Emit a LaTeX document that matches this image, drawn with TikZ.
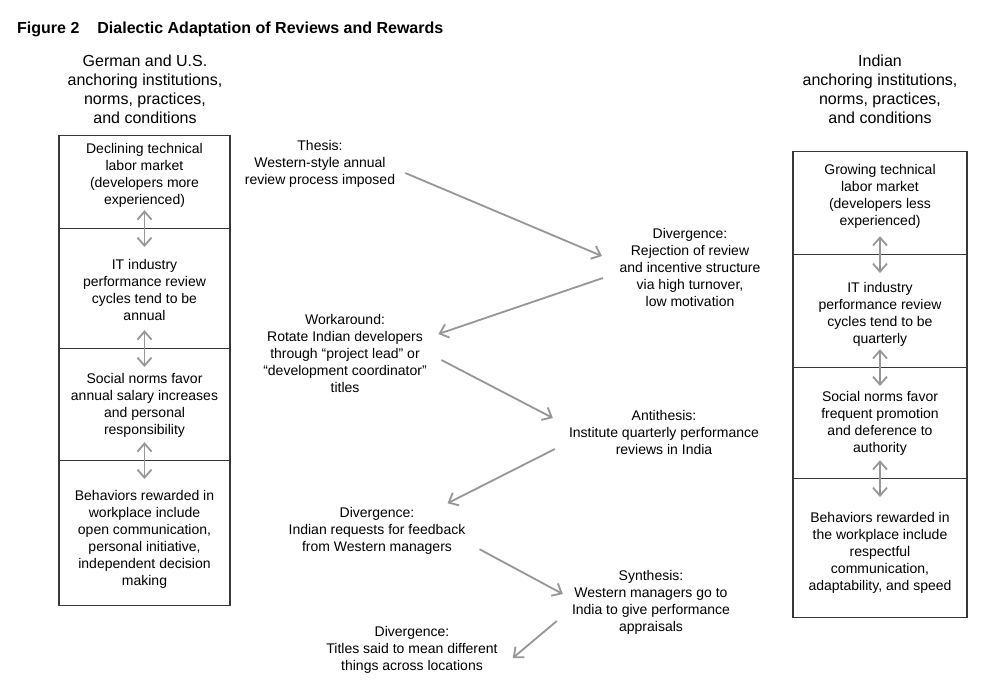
\documentclass[tikz,border=0pt]{standalone}
\usepackage{fontspec}
\setmainfont{Liberation Sans}
\usetikzlibrary{arrows.meta}
\definecolor{arrowgray}{RGB}{150,150,150}
\definecolor{boxline}{RGB}{55,55,55}

\begin{document}
\begin{tikzpicture}[x=1pt, y=-1pt,
	box/.style={draw=boxline, line width=1.2pt, anchor=north, inner sep=0pt},
	txt/.style={align=center, inner sep=0pt, yshift=-2pt, font=\fontsize{14}{17}\selectfont},
	head/.style={align=center, inner sep=0pt, font=\fontsize{16}{19}\selectfont},
	dbl/.style={draw=arrowgray, line width=1.8pt,
		{Straight Barb[length=8pt,width=14pt]}-{Straight Barb[length=8pt,width=14pt]}},
	flow/.style={draw=arrowgray, line width=1.8pt, -{Straight Barb[length=8pt,width=14pt]}}]
	\useasboundingbox (0,0) rectangle (999,681);
	% Title
	\node[anchor=base west, inner sep=0pt, font=\fontsize{16}{19}\selectfont\bfseries] (title) at (17,33)
		{Figure 2\hspace{18pt}Dialectic Adaptation of Reviews and Rewards};
	% Headers of the two columns
	\node[head] (ghead) at (145,89.5) {German and U.S.\\anchoring institutions,\\norms, practices,\\and conditions};
	\node[head] (ihead) at (880,89) {Indian\\anchoring institutions,\\norms, practices,\\and conditions};
	% First we draw the stacked boxes
	\foreach \pos/\w/\h/\name in {{(144.5,135)/171/93/g1}, {(144.5,228)/171/120/g2},
	                              {(144.5,348)/171/112/g3}, {(144.5,460)/171/145/g4},
	                              {(880,151)/174/103/i1}, {(880,254)/174/113/i2},
	                              {(880,367)/174/111/i3}, {(880,478)/174/139/i4}}
		\node[box, minimum width=\w pt, minimum height=\h pt] (\name) at \pos {};
	% Texts in the boxes
	\node[txt] (g1t) at (144.5,173) {Declining technical\\labor market\\(developers more\\experienced)};
	\node[txt] (g2t) at (144.5,288) {IT industry\\performance review\\cycles tend to be\\annual};
	\node[txt] (g3t) at (144.5,403.5) {Social norms favor\\annual salary increases\\and personal\\responsibility};
	\node[txt] (g4t) at (144.5,537.5) {Behaviors rewarded in\\workplace include\\open communication,\\personal initiative,\\independent decision\\making};
	\node[txt] (i1t) at (880,194) {Growing technical\\labor market\\(developers less\\experienced)};
	\node[txt] (i2t) at (880,312) {IT industry\\performance review\\cycles tend to be\\quarterly};
	\node[txt] (i3t) at (880,421.5) {Social norms favor\\frequent promotion\\and deference to\\authority};
	\node[txt] (i4t) at (880,551) {Behaviors rewarded in\\the workplace include\\respectful\\communication,\\adaptability, and speed};
	% Then the arrows between the boxes
	\foreach \source/\dest in {g1/g2, g2/g3, g3/g4, i1/i2, i2/i3, i3/i4}
		\draw[dbl] ([yshift=19pt]\source.south) -- ([yshift=-19pt]\dest.north);
	% The dialectic steps in the middle
	\node[txt] (thesis) at (320,162) {Thesis:\\Western-style annual\\review process imposed};
	\node[txt] (div1) at (690,265.5) {Divergence:\\Rejection of review\\and incentive structure\\via high turnover,\\low motivation};
	\node[txt] (work) at (345,351.5) {Workaround:\\Rotate Indian developers\\through “project lead” or\\“development coordinator”\\titles};
	\node[txt] (anti) at (664,430.5) {Antithesis:\\Institute quarterly performance\\reviews in India};
	\node[txt] (div2) at (377,529) {Divergence:\\Indian requests for feedback\\from Western managers};
	\node[txt] (synth) at (651,600) {Synthesis:\\Western managers go to\\India to give performance\\appraisals};
	\node[txt] (div3) at (412,648) {Divergence:\\Titles said to mean different\\things across locations};
	% Arrows from step to step
	\draw[flow] ([shift={(10,9)}]thesis.east) -- ([shift={(-17.5,-11.5)}]div1.west);
	\draw[flow] ([shift={(-16.5,10.5)}]div1.west) -- ([shift={(11.5,-19.5)}]work.east);
	\draw[flow] ([shift={(14.5,6.5)}]work.east) -- ([shift={(-16,-14.5)}]anti.west);
	\draw[flow] ([shift={(-14,16.5)}]anti.west) -- ([shift={(-18,-4)}]div2.north east);
	\draw[flow] ([shift={(14,-5.5)}]div2.south east) -- ([shift={(-9,-8)}]synth.west);
	\draw[flow] ([shift={(-15,19)}]synth.west) -- ([shift={(15,8)}]div3.east);
\end{tikzpicture}
\end{document}
